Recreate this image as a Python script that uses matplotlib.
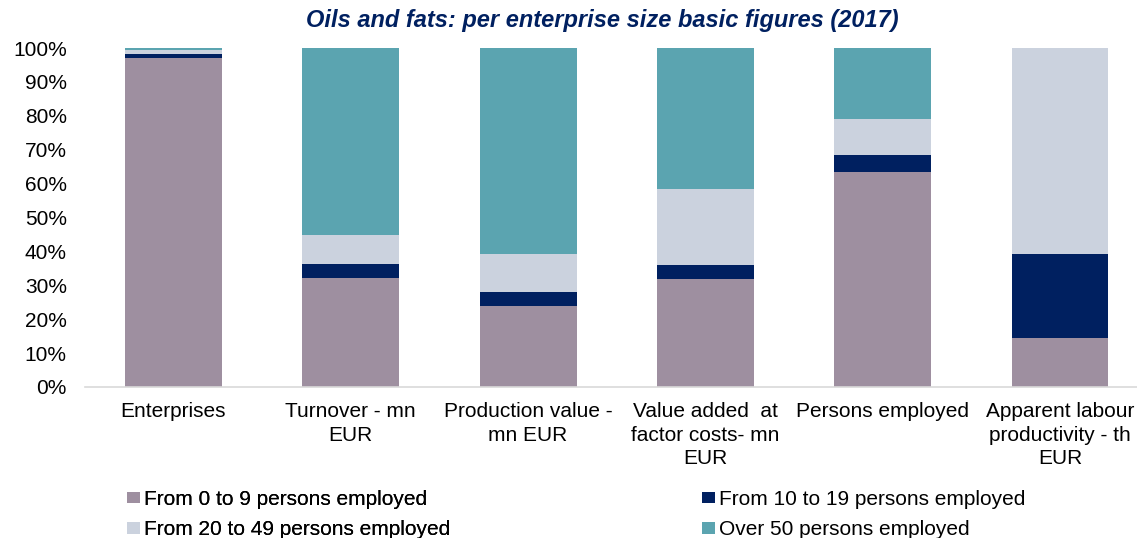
import matplotlib
matplotlib.use("Agg")
import matplotlib.pyplot as plt
import numpy as np

plt.rcParams['font.family'] = ['Liberation Sans', 'DejaVu Sans']

categories = ["Enterprises", "Turnover - mn\nEUR", "Production value -\nmn EUR",
              "Value added  at\nfactor costs- mn\nEUR", "Persons employed",
              "Apparent labour\nproductivity - th\nEUR"]
s_0_9 = [97.0, 32.2, 23.9, 31.9, 63.4, 14.5]
s_10_19 = [1.3, 4.1, 4.1, 4.1, 5.0, 24.6]
s_20_49 = [1.0, 8.5, 11.2, 22.4, 10.7, 60.9]
s_50 = [0.7, 55.2, 60.8, 41.6, 20.9, 0.0]
series_names = ["From 0 to 9 persons employed", "From 10 to 19 persons employed",
                "From 20 to 49 persons employed", "Over 50 persons employed"]
colors = ["#9E8FA0", "#002060", "#CBD2DE", "#5BA4B0"]
yticks = [0, 10, 20, 30, 40, 50, 60, 70, 80, 90, 100]

fig = plt.figure(figsize=(11.37, 5.38), dpi=100)
ax = fig.add_axes([84.85 / 1137, 151 / 538, 1063.8 / 1137, 339 / 538])

x = np.arange(len(categories))
bottom = np.zeros(len(categories))
handles = []
for vals, c, name in zip([s_0_9, s_10_19, s_20_49, s_50], colors, series_names):
    h = ax.bar(x, vals, 0.547, bottom=bottom, color=c, label=name)
    handles.append(h)
    bottom += np.array(vals)

ax.set_xlim(-0.5, len(categories) - 0.5)
ax.set_ylim(0, 100)
ax.set_yticks(yticks)
ax.set_yticklabels([f"{t}%" for t in yticks], fontsize=15)
ax.set_xticks(x)
ax.set_xticklabels(categories, fontsize=15, linespacing=1.3)
ax.tick_params(axis='both', length=0)
ax.tick_params(axis='x', pad=11)
ax.tick_params(axis='y', pad=13)
for s in ['top', 'right', 'left']:
    ax.spines[s].set_visible(False)
ax.spines['bottom'].set_color('#D9D9D9')
ax.spines['bottom'].set_linewidth(1.2)

fig.text(602 / 1137, 0.961, "Oils and fats: per enterprise size basic figures (2017)",
         ha='center', va='center', fontsize=17, fontweight='bold', fontstyle='italic',
         color='#002060')

leg_kw = dict(loc='upper left', frameon=False, fontsize=15, handlelength=0.62,
              handleheight=0.48, handletextpad=0.2, labelspacing=0.55,
              borderpad=0, borderaxespad=0)
leg1 = fig.legend(handles=[handles[0], handles[2]],
                  labels=[series_names[0], series_names[2]],
                  bbox_to_anchor=(127 / 1137, 1 - 490 / 538), **leg_kw)
fig.add_artist(leg1)
leg2 = fig.legend(handles=[handles[1], handles[3]],
                  labels=[series_names[1], series_names[3]],
                  bbox_to_anchor=(702 / 1137, 1 - 490 / 538), **leg_kw)

fig.savefig("out.png", dpi=100)
